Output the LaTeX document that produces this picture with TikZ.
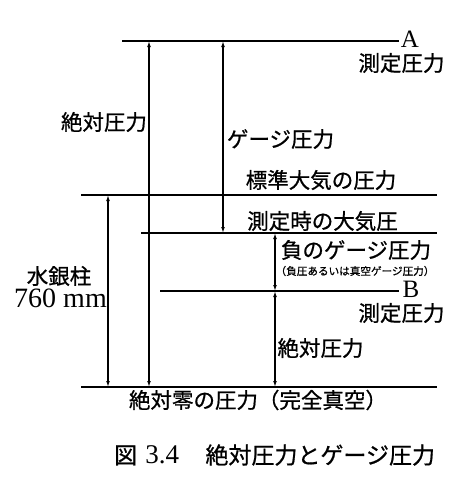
\documentclass[tikz,border=0pt]{standalone}
\usepackage{fontspec}
\newfontfamily\jpfont[FakeBold=0.8]{Noto Sans CJK JP}
\newfontfamily\romfont{Liberation Serif}
\usetikzlibrary{arrows.meta}

\begin{document}
\begin{tikzpicture}[
    x=1pt, y=-1pt,
    level/.style={line width=2.3pt},
    dim/.style={{Latex[length=6pt,width=3.8pt]}-{Latex[length=6pt,width=3.8pt]}, line width=1.2pt},
    lbl/.style={inner sep=0pt, font=\jpfont\fontsize{21.5}{24}\selectfont},
    small/.style={inner sep=0pt, font=\jpfont\fontsize{10.6}{12}\selectfont},
    letter/.style={inner sep=0pt, anchor=base, font=\romfont\fontsize{25}{28}\selectfont}
]
\useasboundingbox (0,0) rectangle (462,477);

% pressure levels
\coordinate (aL) at (122,41);   \coordinate (aR) at (399,41);
\coordinate (stdL) at (81,195); \coordinate (stdR) at (437,195);
\coordinate (nowL) at (141,233); \coordinate (nowR) at (437,233);
\coordinate (bL) at (160,291);  \coordinate (bR) at (399,291);
\coordinate (zeroL) at (81,387); \coordinate (zeroR) at (437,387);

\draw[level] (aL) -- (aR);
\draw[level] (stdL) -- (stdR);
\draw[level] (nowL) -- (nowR);
\draw[level] (bL) -- (bR);
\draw[level] (zeroL) -- (zeroR);

% columns of the arrows
\coordinate (hgCol) at (108,0);
\coordinate (absCol) at (149,0);
\coordinate (gaugeCol) at (223,0);
\coordinate (negCol) at (275,0);

\draw[dim] (hgCol |- stdL) -- (hgCol |- zeroL);
\draw[dim] (absCol |- aL) -- (absCol |- zeroL);
\draw[dim] (gaugeCol |- aL) -- (gaugeCol |- nowL);
\draw[dim] (negCol |- nowL) -- (negCol |- bL);
\draw[dim] (negCol |- bL) -- (negCol |- zeroL);

% labels
\node[letter] (ptA) at (410,47) {A};
\node[lbl] (measA) at (401.5,63) {測定圧力};
\node[lbl] (absA) at (104,122) {絶対圧力};
\node[lbl] (gauge) at (280.5,139) {ゲージ圧力};
\node[lbl] (stdAtm) at (321,180) {標準大気の圧力};
\node[lbl] (nowAtm) at (322.5,221) {測定時の大気圧};
\node[lbl] (negGauge) at (356,250) {負のゲージ圧力};
\node[small] (vacGauge) at (355,271) {（負圧あるいは真空ゲージ圧力）};
\node[lbl] (hg) at (59,276) {水銀柱};
\node[inner sep=0pt, anchor=base, font=\romfont\fontsize{28}{30}\selectfont] (hgmm) at (60.5,307) {760 mm};
\node[letter] (ptB) at (411,297) {B};
\node[lbl] (measB) at (401.5,313) {測定圧力};
\node[lbl] (absB) at (320.5,348) {絶対圧力};
\node[lbl] (zero) at (258,400) {絶対零の圧力（完全真空）};

% caption
\node[inner sep=0pt, anchor=west, font=\fontsize{23}{26}\selectfont] (caption) at (114,455)
  {\jpfont 図\hspace{0.35em}{\romfont\fontsize{27}{28}\selectfont 3.4}\hspace{1.15em}\jpfont 絶対圧力とゲージ圧力};

\end{tikzpicture}
\end{document}
